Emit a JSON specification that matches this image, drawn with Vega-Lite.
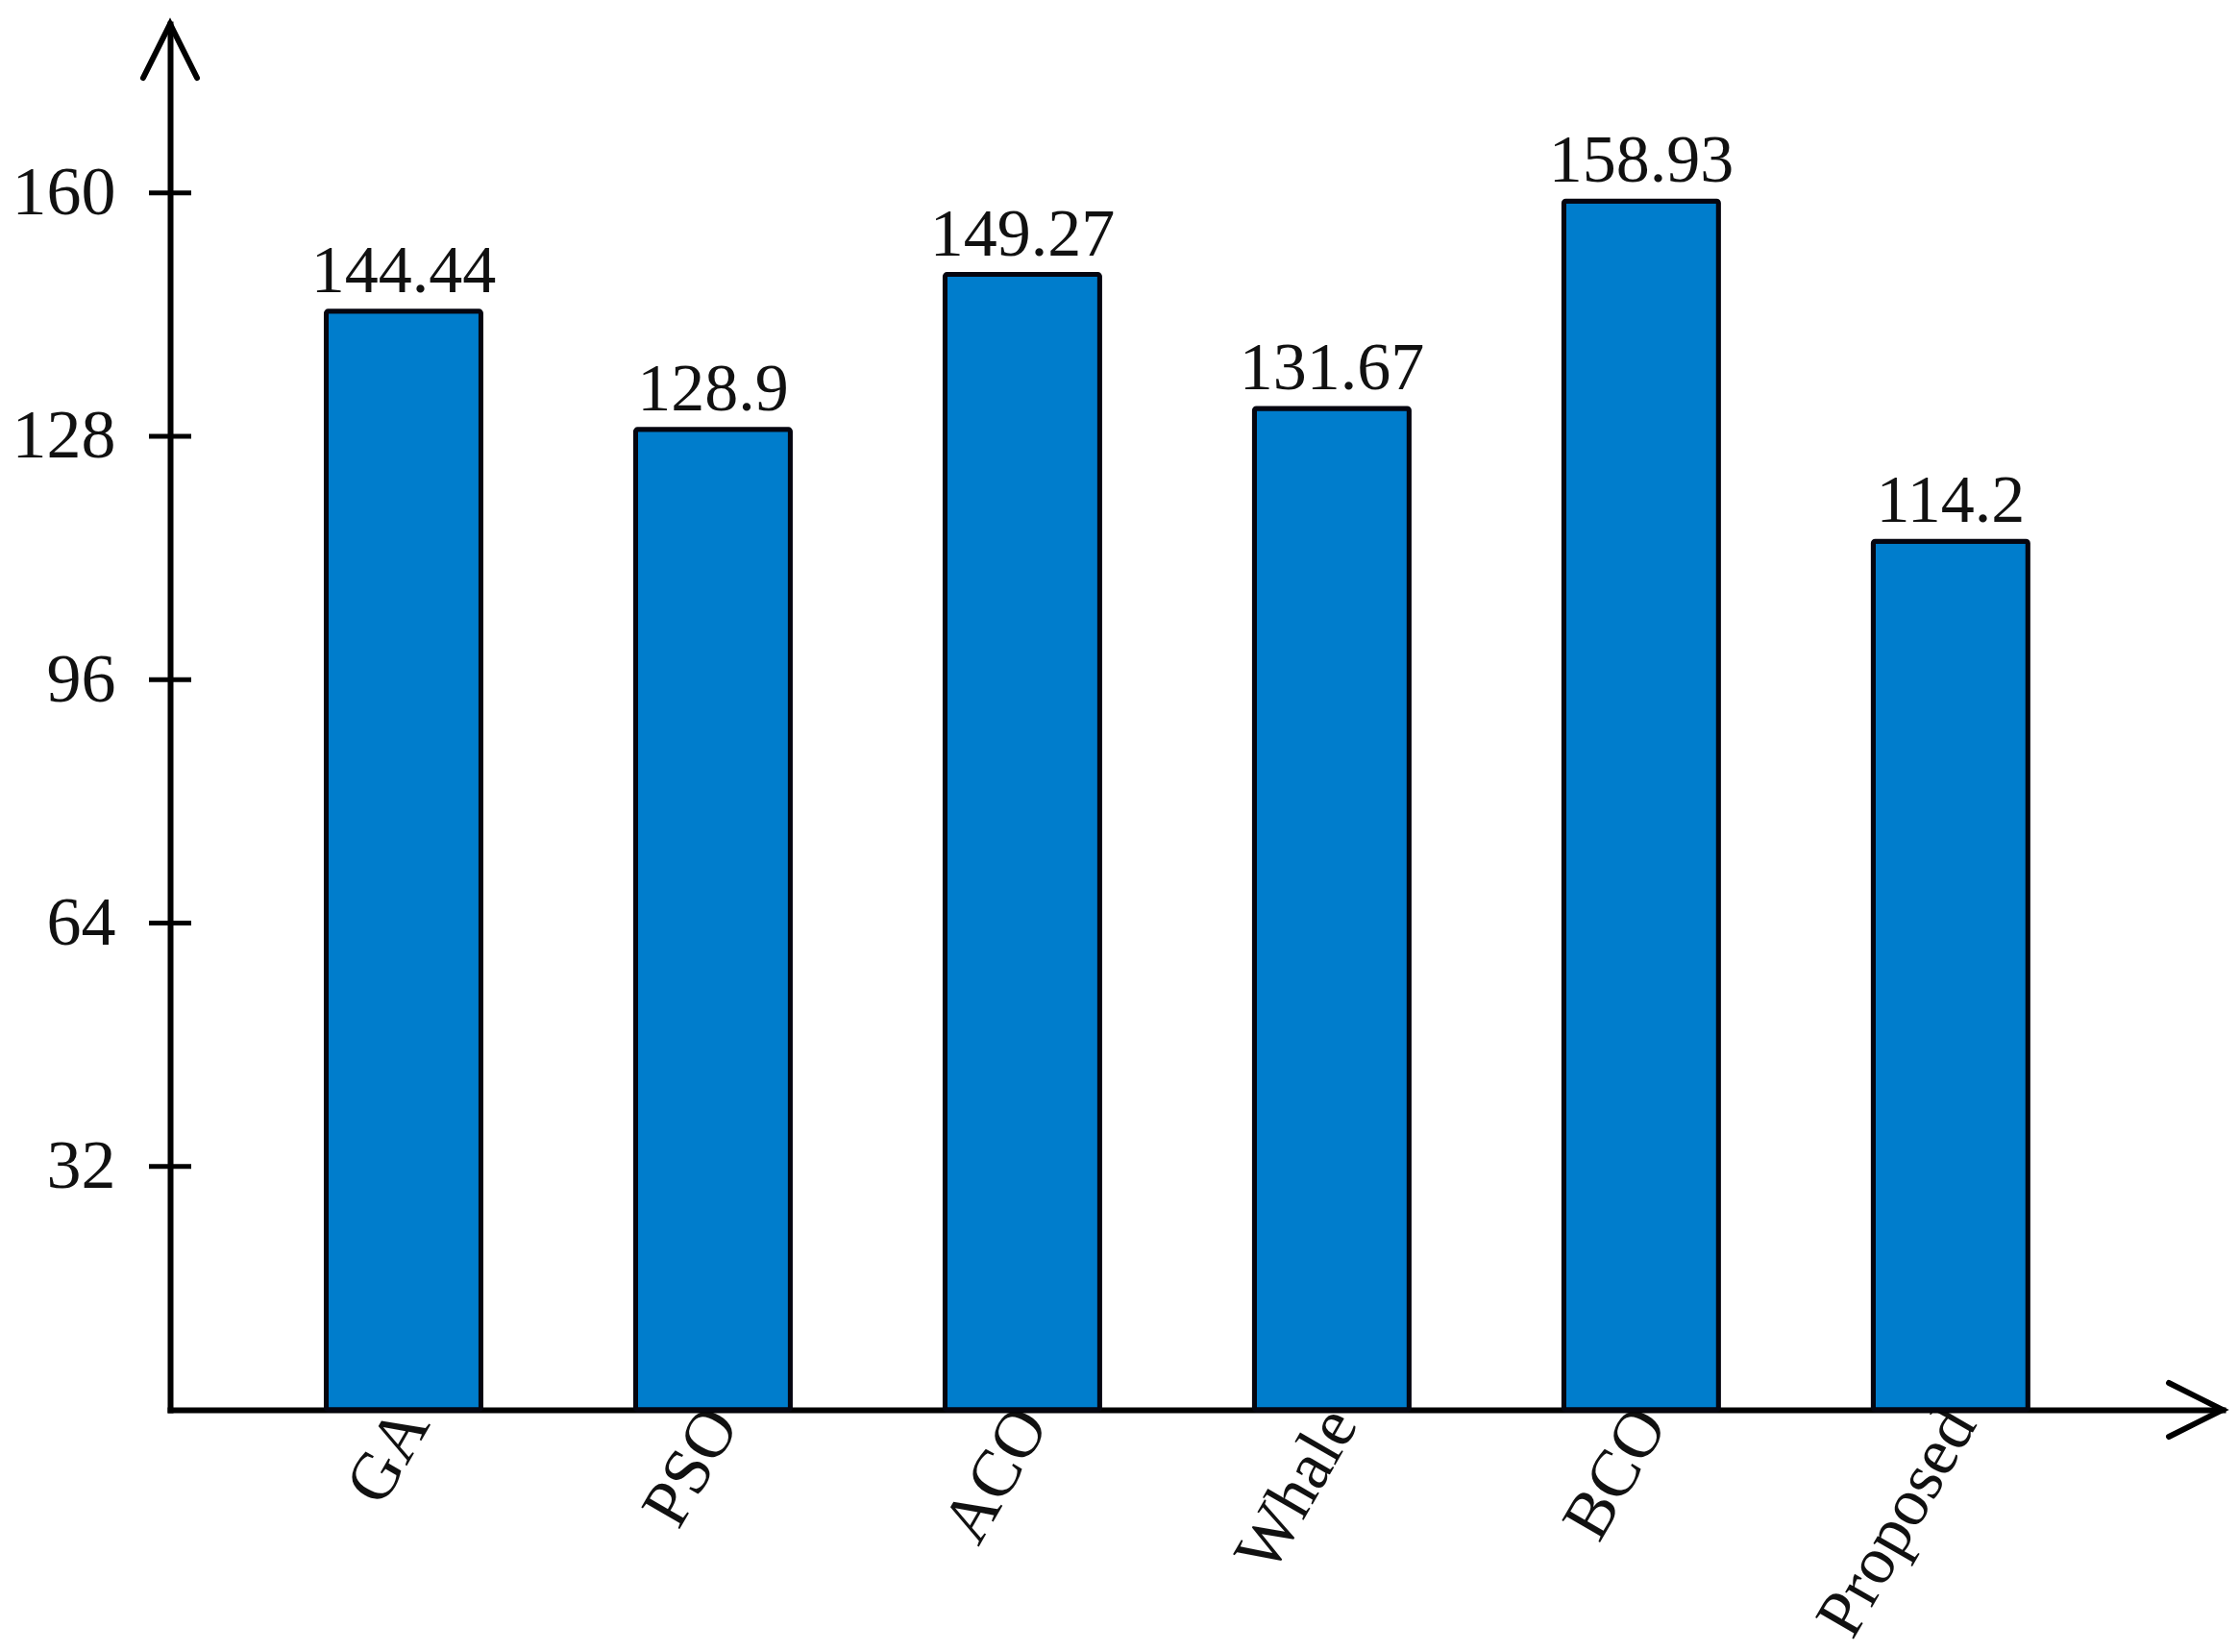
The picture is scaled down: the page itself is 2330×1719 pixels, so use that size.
{
  "$schema": "https://vega.github.io/schema/vega-lite/v6.json",
  "width": 2136,
  "height": 1442,
  "autosize": "none",
  "padding": {"left": 177, "top": 25, "right": 17, "bottom": 252},
  "background": "white",
  "config": {"view": {"stroke": null}, "font": "Liberation Serif"},
  "datasets": {
    "bars": [
      {"algorithm": "GA", "value": 144.44, "label": "144.44"},
      {"algorithm": "PSO", "value": 128.9, "label": "128.9"},
      {"algorithm": "ACO", "value": 149.27, "label": "149.27"},
      {"algorithm": "Whale", "value": 131.67, "label": "131.67"},
      {"algorithm": "BCO", "value": 158.93, "label": "158.93"},
      {"algorithm": "Proposed", "value": 114.2, "label": "114.2"}
    ],
    "ticks": [{"value": 32}, {"value": 64}, {"value": 96}, {"value": 128}, {"value": 160}],
    "arrows": [
      {"axis": "y", "px": 0, "py": 182.2},
      {"axis": "x", "px": 1, "py": 0}
    ]
  },
  "layer": [
    {
      "data": {"name": "bars"},
      "encoding": {
        "x": {
          "field": "algorithm",
          "type": "nominal",
          "sort": null,
          "scale": {"paddingInner": 0.5, "paddingOuter": 0.567, "align": 0.445},
          "axis": {
            "title": null,
            "labelAngle": -60,
            "labelAlign": "right",
            "labelBaseline": "middle",
            "labelFontSize": 70,
            "labelFont": "Liberation Serif",
            "labelColor": "#111111",
            "labelPadding": 4,
            "labelOffset": 10,
            "labelLimit": 0,
            "labelOverlap": false,
            "ticks": false,
            "tickSize": 0,
            "domainWidth": 6,
            "domainColor": "#000000",
            "domainCap": "square"
          }
        },
        "y": {
          "field": "value",
          "type": "quantitative",
          "scale": {"domain": [0, 182.2], "nice": false, "zero": true},
          "axis": {
            "title": null,
            "values": [32, 64, 96, 128, 160],
            "grid": false,
            "ticks": false,
            "tickSize": 0,
            "labelPadding": 57,
            "labelFontSize": 72,
            "labelFont": "Liberation Serif",
            "labelColor": "#111111",
            "domainWidth": 6,
            "domainColor": "#000000",
            "domainCap": "square"
          }
        }
      },
      "layer": [
        {
          "mark": {"type": "bar", "fill": "#007DCC", "stroke": "#05050f", "strokeWidth": 5, "cornerRadius": 2}
        },
        {
          "mark": {"type": "text", "baseline": "alphabetic", "align": "center", "dy": -20, "fontSize": 70, "font": "Liberation Serif", "color": "#111111"},
          "encoding": {"text": {"field": "label", "type": "nominal"}}
        }
      ]
    },
    {
      "layer": [
        {
          "data": {"name": "ticks"},
          "mark": {"type": "point", "shape": "M -1 0 L 1 0", "size": 1936, "filled": false, "stroke": "#000000", "strokeWidth": 5, "opacity": 1},
          "encoding": {
            "x": {"datum": 0, "type": "quantitative", "scale": {"domain": [0, 1], "nice": false, "zero": false}, "axis": null},
            "y": {"field": "value", "type": "quantitative", "scale": {"domain": [0, 182.2], "nice": false, "zero": true}}
          }
        },
        {
          "data": {"name": "arrows"},
          "mark": {"type": "point", "size": 3136, "filled": false, "stroke": "#000000", "strokeWidth": 6, "opacity": 1, "strokeCap": "round"},
          "encoding": {
            "x": {"field": "px", "type": "quantitative", "scale": {"domain": [0, 1], "nice": false, "zero": false}, "axis": null},
            "y": {"field": "py", "type": "quantitative", "scale": {"domain": [0, 182.2], "nice": false, "zero": true}},
            "shape": {
              "field": "axis",
              "type": "nominal",
              "scale": {"domain": ["x", "y"], "range": ["M -2 -1 L 0 0 L -2 1", "M -1 2 L 0 0 L 1 2"]},
              "legend": null
            }
          }
        }
      ]
    }
  ],
  "resolve": {"scale": {"x": "independent"}}
}
